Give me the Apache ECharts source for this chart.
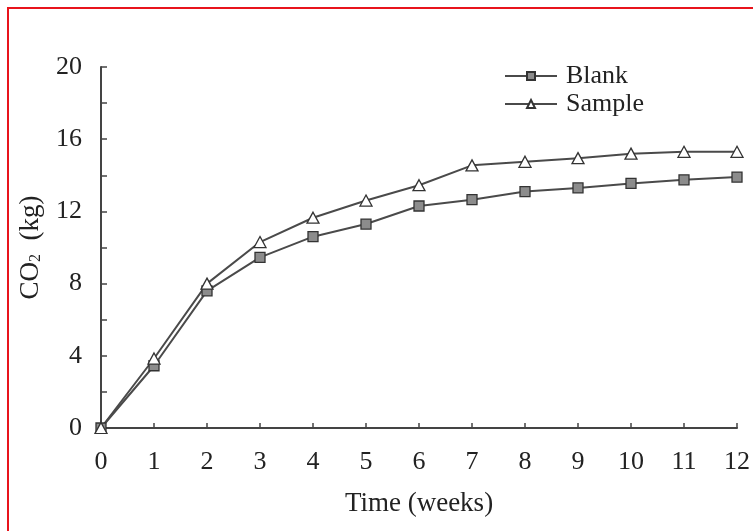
<!DOCTYPE html>
<html><head><meta charset="utf-8">
<script src="https://cdn.jsdelivr.net/npm/echarts@6/dist/echarts.min.js"></script>
<style>html,body{margin:0;padding:0;background:#fff}#c{width:753px;height:531px}</style>
</head><body><div id="c"></div>
<script>
const weeks = [0,1,2,3,4,5,6,7,8,9,10,11,12];
const blank = [0,3.45,7.6,9.45,10.6,11.3,12.3,12.65,13.1,13.3,13.55,13.75,13.9];
const sample = [0,3.85,8.0,10.3,11.65,12.6,13.45,14.55,14.75,14.95,15.2,15.3,15.3];
const yTicks = [0,4,8,12,16,20];

const font = 'Liberation Serif, Times New Roman, serif';
const chart = echarts.init(document.getElementById('c'));
chart.setOption({
  animation:false,
  backgroundColor:'#fff',
  graphic:[{type:'rect',shape:{x:8,y:8,width:800,height:600},style:{fill:'none',stroke:'#e8141c',lineWidth:2},z:100}],
  grid:{left:101,right:16,top:67,bottom:103},
  legend:{
    left:499, top:58, orient:'vertical', itemGap:2, itemWidth:52, itemHeight:10,
    textStyle:{fontFamily:font,fontSize:26,color:'#222',padding:[0,0,0,4]},
    data:['Blank','Sample']
  },
  xAxis:{
    type:'value', min:0, max:12, interval:1,
    name:'Time (weeks)', nameLocation:'middle', nameGap:62,
    nameTextStyle:{fontFamily:font,fontSize:27,color:'#222'},
    axisLine:{lineStyle:{color:'#444',width:2}},
    axisTick:{inside:true,length:5,lineStyle:{color:'#444',width:1.5}},
    axisLabel:{fontFamily:font,fontSize:26,color:'#222',margin:21,formatter:v=>weeks.includes(v)?String(v):''},
    splitLine:{show:false}
  },
  yAxis:{
    type:'value', min:0, max:20, interval:2,
    name:'{a|CO}{b|2}{a|  (kg)}', nameLocation:'middle', nameGap:57,
    nameTextStyle:{rich:{a:{fontFamily:font,fontSize:27,color:'#222'},b:{fontFamily:font,fontSize:16,color:'#222',verticalAlign:'bottom'}}},
    axisLine:{show:true,lineStyle:{color:'#444',width:2}},
    axisTick:{inside:true,length:6,lineStyle:{color:'#444',width:1.5}},
    axisLabel:{fontFamily:font,fontSize:26,color:'#222',margin:19,formatter:v=>yTicks.includes(v)?String(v):''},
    splitLine:{show:false}
  },
  series:[
    {name:'Blank',type:'line',data:weeks.map((w,i)=>[w,blank[i]]),
     symbol:'rect',symbolSize:10,
     lineStyle:{color:'#4a4a4a',width:2},
     itemStyle:{color:'#8c8c8c',borderColor:'#333',borderWidth:1.3}},
    {name:'Sample',type:'line',data:weeks.map((w,i)=>[w,sample[i]]),
     symbol:'triangle',symbolSize:[12,11],
     lineStyle:{color:'#4a4a4a',width:2},
     itemStyle:{color:'#fff',borderColor:'#333',borderWidth:1.3}}
  ]
});
</script></body></html>
